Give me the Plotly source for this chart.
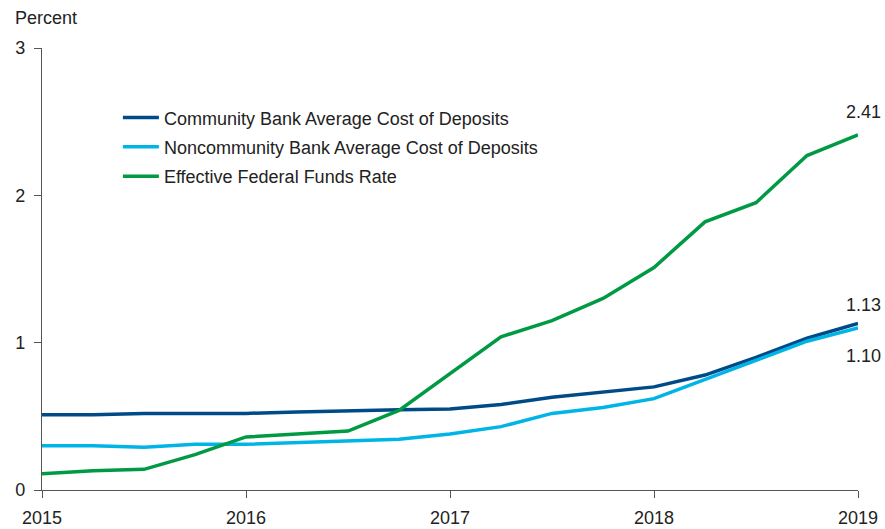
import plotly.graph_objects as go

quarters = [2015.0, 2015.25, 2015.5, 2015.75, 2016.0, 2016.25, 2016.5, 2016.75,
            2017.0, 2017.25, 2017.5, 2017.75, 2018.0, 2018.25, 2018.5, 2018.75, 2019.0]
community = [0.51, 0.51, 0.52, 0.52, 0.52, 0.53, 0.54, 0.545, 0.55, 0.58, 0.63, 0.665, 0.70, 0.78, 0.90, 1.03, 1.13]
noncommunity = [0.30, 0.30, 0.29, 0.31, 0.31, 0.32, 0.33, 0.345, 0.38, 0.43, 0.52, 0.56, 0.62, 0.75, 0.88, 1.01, 1.10]
effr = [0.11, 0.13, 0.14, 0.24, 0.36, 0.38, 0.40, 0.54, 0.79, 1.04, 1.15, 1.30, 1.51, 1.82, 1.95, 2.27, 2.41]

names = ["Community Bank Average Cost of Deposits",
         "Noncommunity Bank Average Cost of Deposits",
         "Effective Federal Funds Rate"]
colors = ["#004b87", "#00b5e6", "#009a44"]
x_ticks = [2015, 2016, 2017, 2018, 2019]
y_ticks = [0, 1, 2, 3]

FONT = "Liberation Sans"
TXT = "#222222"
AX = "#555555"
FS = 18

fig = go.Figure()
for i, (nm, ys, c) in enumerate(zip(names, [community, noncommunity, effr], colors)):
    fig.add_trace(go.Scatter(x=quarters, y=ys, mode="lines", name=nm,
                             legendgroup=f"g{i}",
                             line=dict(color=c, width=3.5)))

fig.add_annotation(x=2019, y=effr[-1], text="2.41", showarrow=False,
                   xshift=5, yshift=23, font=dict(size=FS, color=TXT, family=FONT))
fig.add_annotation(x=2019, y=community[-1], text="1.13", showarrow=False,
                   xshift=5, yshift=19, font=dict(size=FS, color=TXT, family=FONT))
fig.add_annotation(x=2019, y=noncommunity[-1], text="1.10", showarrow=False,
                   xshift=5, yshift=-28, font=dict(size=FS, color=TXT, family=FONT))
fig.add_annotation(xref="paper", yref="paper", x=-0.035, y=1.0, yshift=30,
                   xanchor="left", yanchor="middle", text="Percent", showarrow=False,
                   font=dict(size=FS, color=TXT, family=FONT))

fig.update_layout(
    width=885, height=529,
    margin=dict(l=42, r=27, t=48, b=39),
    paper_bgcolor="white", plot_bgcolor="white",
    font=dict(family=FONT, size=FS, color=TXT),
    showlegend=True,
    legend=dict(x=0.093, y=0.884, xanchor="left", yanchor="top",
                font=dict(size=FS, color=TXT, family=FONT), itemwidth=36,
                bgcolor="rgba(0,0,0,0)", tracegroupgap=3),
    xaxis=dict(range=[2015, 2019], tickvals=x_ticks, ticktext=[str(v) for v in x_ticks],
               showgrid=False, zeroline=False, showline=True, linecolor=AX, linewidth=1.2,
               ticks="outside", ticklen=7, tickcolor=AX, tickwidth=1.2, automargin=False,
               ticklabelstandoff=4,
               tickfont=dict(size=FS, color=TXT, family=FONT)),
    yaxis=dict(range=[0, 3], tickvals=y_ticks, ticktext=[str(v) for v in y_ticks],
               showgrid=False, zeroline=False, showline=True, linecolor=AX, linewidth=1.2,
               ticks="outside", ticklen=7, tickcolor=AX, tickwidth=1.2, automargin=False,
               ticklabelstandoff=5,
               tickfont=dict(size=FS, color=TXT, family=FONT)),
)

fig.write_html("out.html", post_script="document.body.style.margin='0';",
               config={"displayModeBar": False})
